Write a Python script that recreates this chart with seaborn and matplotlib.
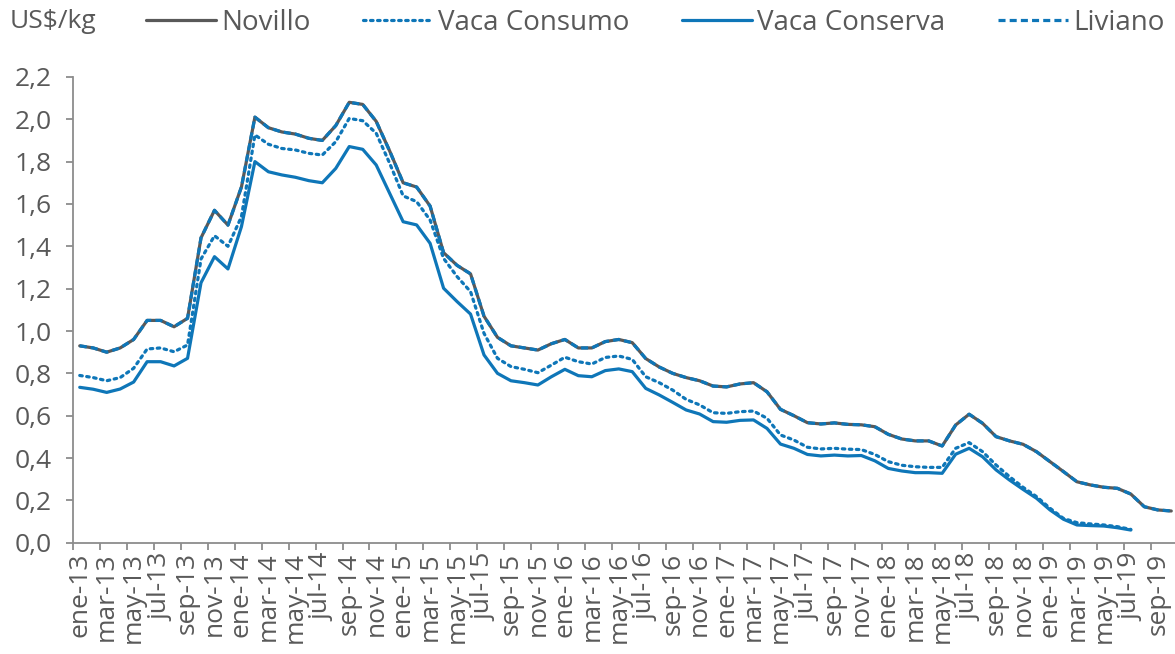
import numpy as np
import matplotlib

matplotlib.use('Agg')
import matplotlib.pyplot as plt
import seaborn as sns

# monthly prices, ene-13 .. oct-19 (US$/kg)
novillo = [0.93, 0.92, 0.90, 0.92, 0.96, 1.05, 1.05, 1.02, 1.06, 1.44, 1.57, 1.50,
           1.68, 2.01, 1.96, 1.94, 1.93, 1.91, 1.90, 1.97, 2.08, 2.07, 1.99, 1.85,
           1.70, 1.68, 1.59, 1.37, 1.31, 1.27, 1.07, 0.97, 0.93, 0.92, 0.91, 0.94,
           0.96, 0.92, 0.92, 0.95, 0.96, 0.945, 0.87, 0.83, 0.80, 0.78, 0.765, 0.74,
           0.736, 0.75, 0.756, 0.713, 0.63, 0.60, 0.567, 0.561, 0.566, 0.559, 0.557, 0.548,
           0.512, 0.49, 0.481, 0.481, 0.457, 0.556, 0.607, 0.564, 0.501, 0.481, 0.465, 0.43,
           0.383, 0.336, 0.288, 0.273, 0.262, 0.257, 0.23, 0.17, 0.155, 0.15]
liviano = [0.93, 0.92, 0.90, 0.92, 0.96, 1.05, 1.05, 1.02, 1.06, 1.44, 1.57, 1.50,
           1.68, 2.01, 1.96, 1.94, 1.93, 1.91, 1.90, 1.97, 2.08, 2.07, 1.99, 1.85,
           1.70, 1.68, 1.59, 1.37, 1.31, 1.27, 1.07, 0.97, 0.93, 0.92, 0.91, 0.94,
           0.96, 0.92, 0.92, 0.95, 0.96, 0.945, 0.87, 0.83, 0.80, 0.78, 0.765, 0.74,
           0.736, 0.75, 0.756, 0.713, 0.63, 0.60, 0.567, 0.561, 0.566, 0.559, 0.557, 0.548,
           0.512, 0.49, 0.481, 0.481, 0.457, 0.556, 0.607, 0.564, 0.501, 0.481, 0.465, 0.43,
           0.383, 0.336, 0.288, 0.273, 0.262, 0.257, 0.23, 0.17, 0.155, 0.15]
vaca_consumo = [0.79, 0.78, 0.765, 0.78, 0.824, 0.915, 0.92, 0.902, 0.934, 1.34, 1.45, 1.40,
                1.54, 1.926, 1.882, 1.862, 1.855, 1.839, 1.831, 1.894, 2.004, 1.993, 1.934, 1.792,
                1.638, 1.611, 1.524, 1.343, 1.257, 1.186, 0.989, 0.871, 0.832, 0.819, 0.803, 0.839,
                0.876, 0.855, 0.844, 0.875, 0.882, 0.866, 0.784, 0.756, 0.721, 0.677, 0.651, 0.614,
                0.611, 0.619, 0.622, 0.588, 0.509, 0.485, 0.451, 0.443, 0.446, 0.442, 0.44, 0.417,
                0.383, 0.366, 0.359, 0.356, 0.356, 0.446, 0.473, 0.43, 0.367, 0.312, 0.262, 0.218,
                0.163, 0.115, 0.095, 0.089, 0.084, 0.076, 0.063]
vaca_conserva = [0.734, 0.725, 0.71, 0.726, 0.759, 0.855, 0.855, 0.835, 0.871, 1.228, 1.351, 1.293,
                 1.493, 1.80, 1.752, 1.737, 1.726, 1.71, 1.70, 1.768, 1.871, 1.858, 1.784, 1.65,
                 1.516, 1.501, 1.414, 1.202, 1.139, 1.08, 0.887, 0.80, 0.765, 0.756, 0.745, 0.784,
                 0.819, 0.789, 0.784, 0.813, 0.821, 0.808, 0.729, 0.698, 0.663, 0.627, 0.608, 0.572,
                 0.569, 0.578, 0.58, 0.54, 0.466, 0.446, 0.417, 0.41, 0.414, 0.41, 0.412, 0.387,
                 0.351, 0.339, 0.331, 0.331, 0.328, 0.418, 0.446, 0.406, 0.344, 0.296, 0.252, 0.21,
                 0.155, 0.111, 0.084, 0.081, 0.079, 0.071, 0.06]

meses = ['ene', 'feb', 'mar', 'abr', 'may', 'jun', 'jul', 'ago', 'sep', 'oct', 'nov', 'dic']
etiquetas = [f'{meses[i % 12]}-{13 + i // 12}' for i in range(len(novillo))]

gris = '#595959'
azul = '#0E76B8'
eje = '#8C8C8C'

sns.set_style('white')
plt.rcParams['font.family'] = ['Open Sans', 'DejaVu Sans']

fig = plt.figure(figsize=(11.75, 6.54), dpi=100)
ax = fig.add_axes([73 / 1175, 1 - 542.75 / 654, 1105 / 1175, (542.75 - 76.9) / 654])

lw = 2.3
sns.lineplot(x=np.arange(len(novillo)), y=novillo, ax=ax, color=gris, lw=lw, label='Novillo')
sns.lineplot(x=np.arange(len(vaca_consumo)), y=vaca_consumo, ax=ax, color=azul, lw=lw,
             linestyle=(0, (0.8, 1.4)), dash_capstyle='round', label='Vaca Consumo')
sns.lineplot(x=np.arange(len(vaca_conserva)), y=vaca_conserva, ax=ax, color=azul, lw=lw,
             label='Vaca Conserva')
sns.lineplot(x=np.arange(len(liviano)), y=liviano, ax=ax, color=azul, lw=lw,
             linestyle=(0, (2.2, 1.3)), label='Liviano')

ax.set_xlim(-0.5, len(novillo) - 0.5)
ax.set_ylim(0, 2.2)

yt = np.arange(0, 2.21, 0.2)
ax.set_yticks(yt)
ax.set_yticklabels([f'{v:.1f}'.replace('.', ',') for v in yt])

ax.set_xticks(np.arange(0, len(novillo), 2))
ax.set_xticklabels(etiquetas[::2], rotation=90, va='top', ha='center')
ax.set_xticks(np.arange(-0.5, len(novillo) - 1, 2), minor=True)

ax.tick_params(axis='x', which='major', length=0, pad=7, labelsize=19, labelcolor=gris)
ax.tick_params(axis='x', which='minor', length=5, width=1.3, color=eje, direction='out', bottom=True)
ax.tick_params(axis='y', length=5, width=1.3, color=eje, direction='out', left=True,
               pad=10, labelsize=19, labelcolor=gris)

for s in ['top', 'right']:
    ax.spines[s].set_visible(False)
for s in ['left', 'bottom']:
    ax.spines[s].set_color(eje)
    ax.spines[s].set_linewidth(1.3)
ax.grid(False)

ax.get_legend().remove()
handles, labels = ax.get_legend_handles_labels()
fig.legend(handles, labels, loc='center left', bbox_to_anchor=(135 / 1175, 1 - 23 / 654),
           ncol=4, frameon=False, fontsize=20, labelcolor=gris, handlelength=2.5,
           handletextpad=0.2, columnspacing=1.9, borderaxespad=0)
fig.text(10 / 1175, 1 - 22 / 654, 'US$/kg', fontsize=19, color=gris, va='center', ha='left')

fig.savefig('out.png', dpi=100)
plt.close(fig)
